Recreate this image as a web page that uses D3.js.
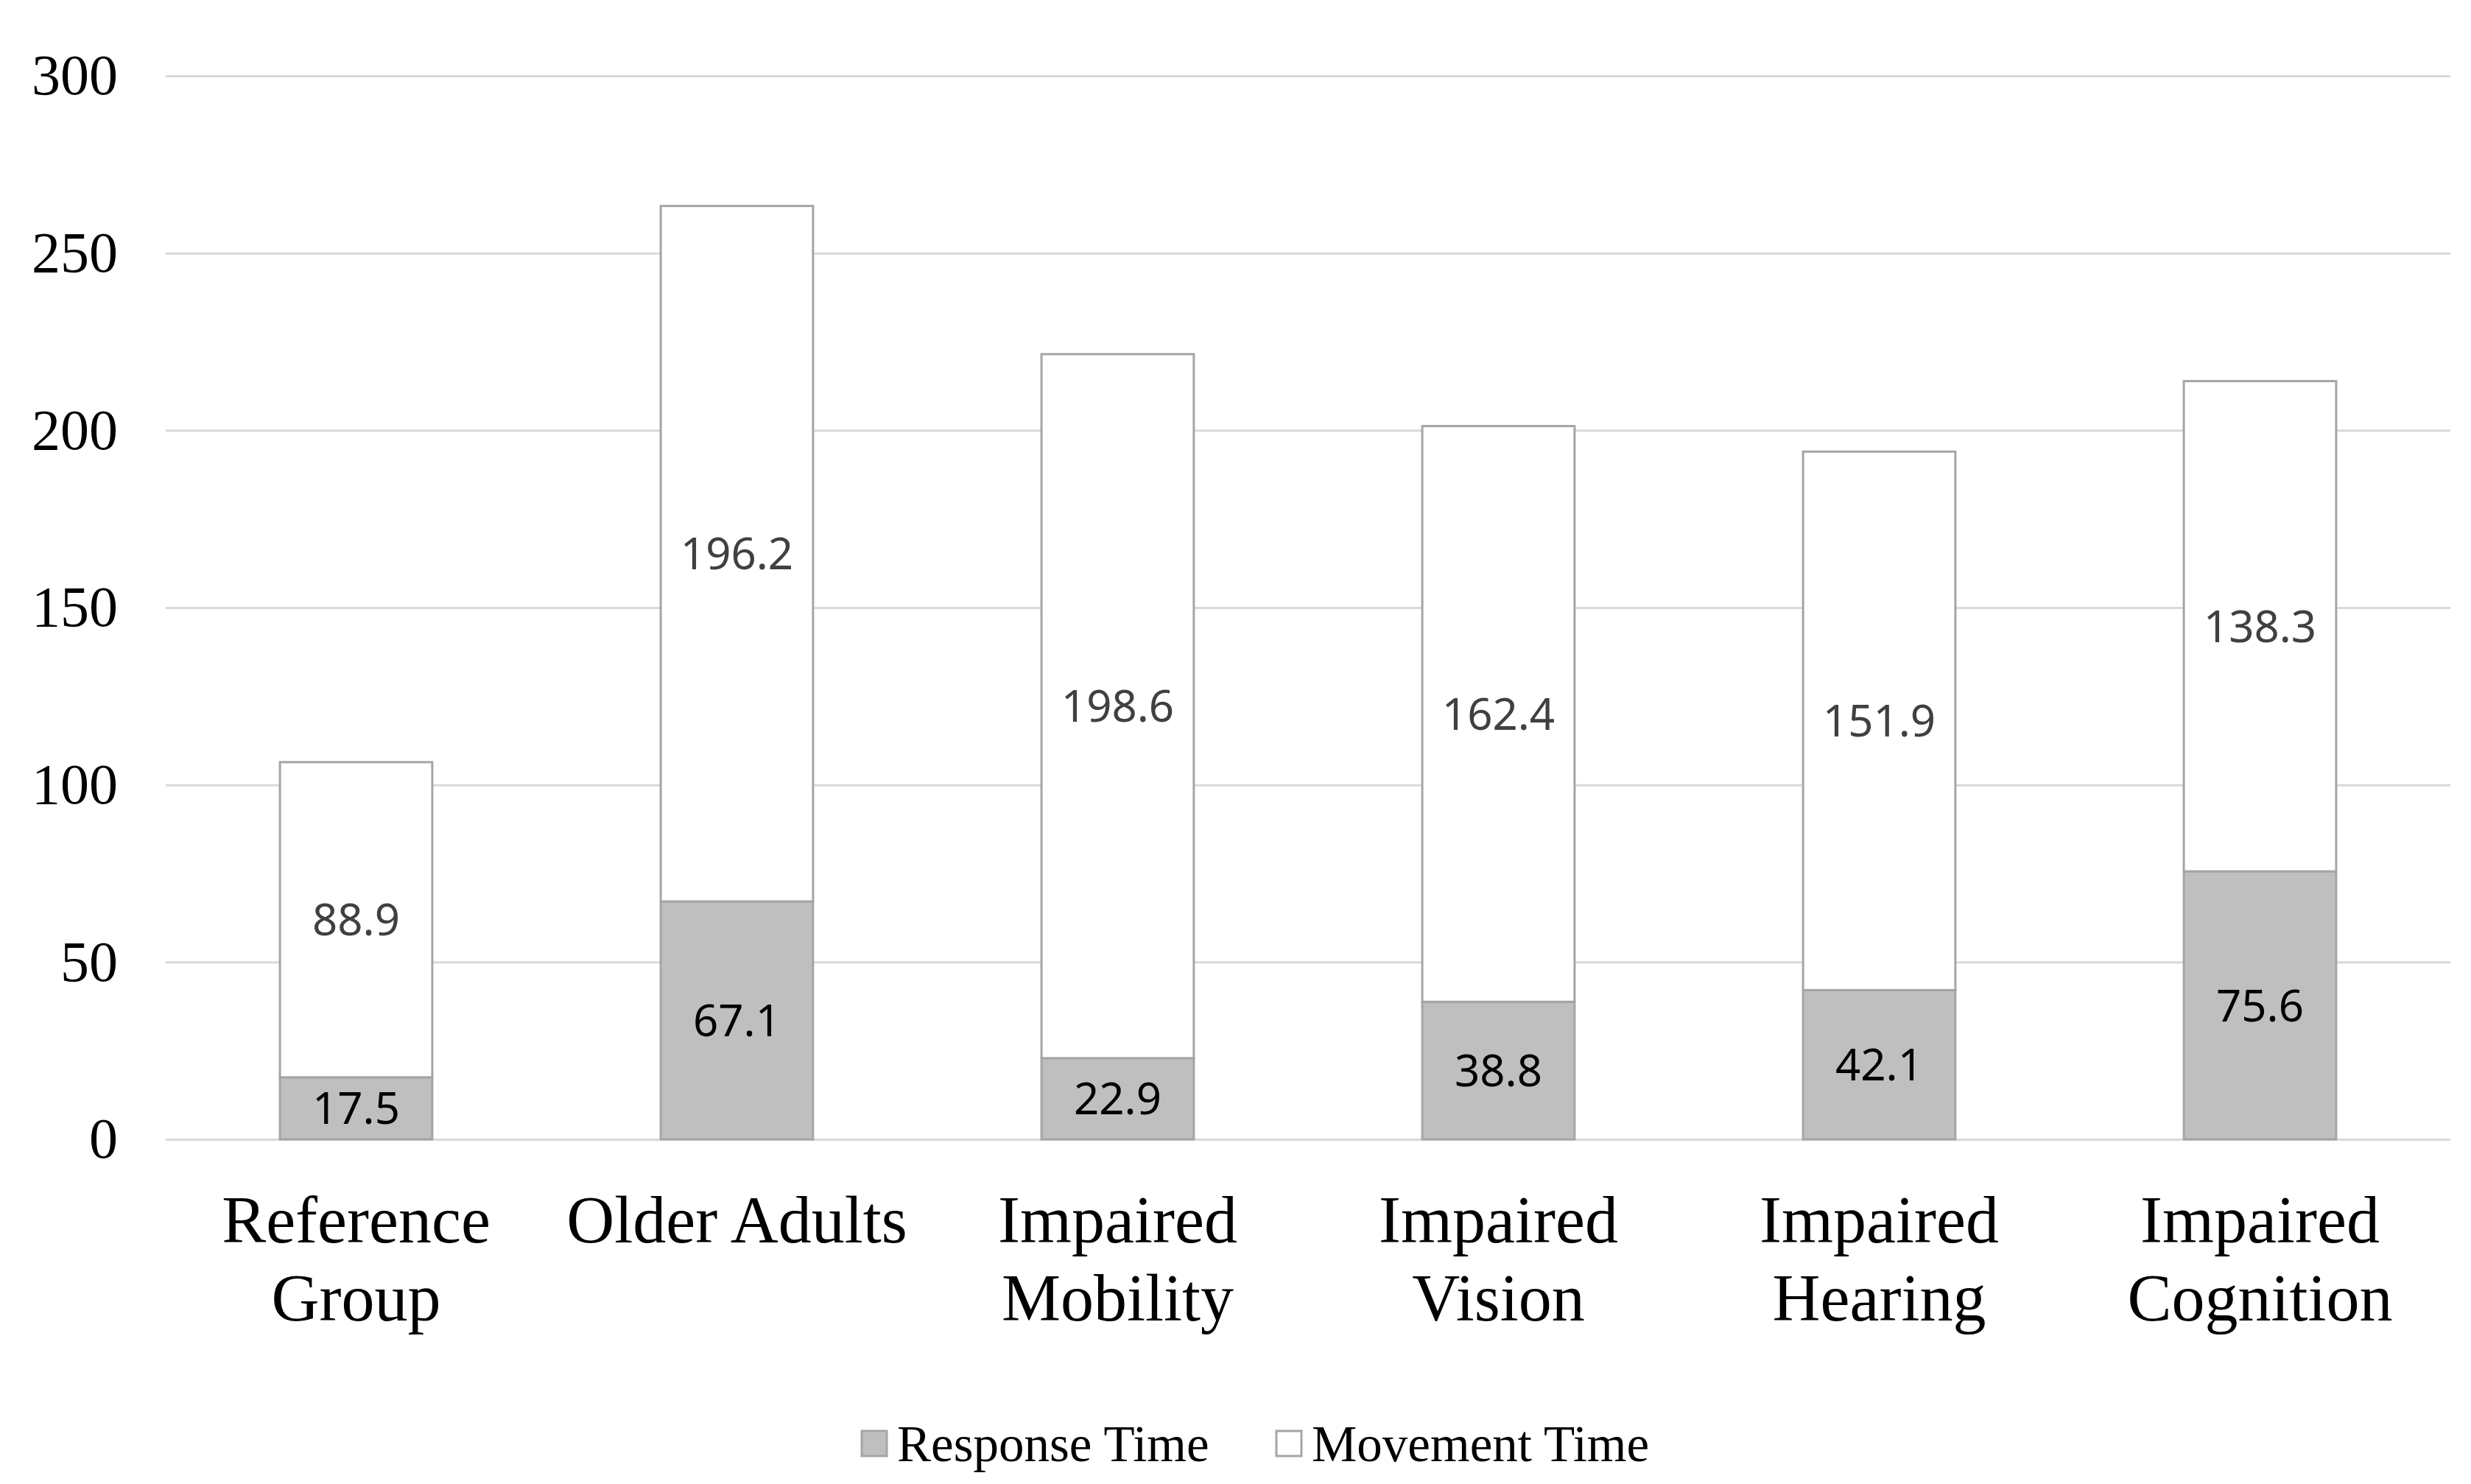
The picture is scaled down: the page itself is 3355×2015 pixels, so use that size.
<!DOCTYPE html>
<html>
<head>
<meta charset="utf-8">
<script src="https://cdn.jsdelivr.net/npm/d3@7"></script>
<style>
  html, body { margin: 0; padding: 0; background: #fff; }
  svg { display: block; }
</style>
</head>
<body>
<svg id="chart"></svg>
<script>
// datos
const categories = [
  ["Reference", "Group"],
  ["Older Adults"],
  ["Impaired", "Mobility"],
  ["Impaired", "Vision"],
  ["Impaired", "Hearing"],
  ["Impaired", "Cognition"]
];
const responseTime = [17.5, 67.1, 22.9, 38.8, 42.1, 75.6];
const movementTime = [88.9, 196.2, 198.6, 162.4, 151.9, 138.3];
const seriesNames = ["Response Time", "Movement Time"];
const yTicks = [0, 50, 100, 150, 200, 250, 300];

const width = 3355, height = 2015;
const margin = { top: 103, right: 28, bottom: 468, left: 225 };
const innerW = width - margin.left - margin.right;
const innerH = height - margin.top - margin.bottom;

const svg = d3.select('#chart').attr('width', width).attr('height', height);
const g = svg.append('g').attr('transform', `translate(${margin.left},${margin.top})`);

const x = d3.scaleBand()
  .domain(d3.range(categories.length))
  .range([0, innerW])
  .paddingInner(0.6)
  .paddingOuter(0.3);

const y = d3.scaleLinear().domain([0, 300]).range([innerH, 0]);

// lineas de cuadricula + etiquetas eje Y
const yAxis = g.append('g')
  .call(d3.axisLeft(y).tickValues(yTicks).tickSize(-innerW).tickPadding(65));
yAxis.select('.domain').remove();
yAxis.selectAll('.tick line').attr('stroke', '#d9d9d9').attr('stroke-width', 3);
yAxis.selectAll('.tick text')
  .attr('font-family', '"Liberation Serif", "Times New Roman", serif')
  .attr('font-size', 78)
  .attr('fill', '#000');

// apilado
const rows = responseTime.map((r, i) => ({ i, r, m: movementTime[i] }));
const stack = d3.stack().keys(['r', 'm'])(rows);
const fills = ['#bfbfbf', '#ffffff'];
const labelColors = ['#000000', '#404040'];

stack.forEach((layer, k) => {
  g.append('g').selectAll('rect')
    .data(layer)
    .join('rect')
    .attr('x', d => x(d.data.i))
    .attr('width', x.bandwidth())
    .attr('y', d => y(d[1]))
    .attr('height', d => y(d[0]) - y(d[1]))
    .attr('fill', fills[k])
    .attr('stroke', '#a5a5a5')
    .attr('stroke-width', 3);

  g.append('g').selectAll('text')
    .data(layer)
    .join('text')
    .attr('x', d => x(d.data.i) + x.bandwidth() / 2)
    .attr('y', d => y((d[0] + d[1]) / 2))
    .attr('dy', '0.36em')
    .attr('text-anchor', 'middle')
    .attr('font-family', '"Noto Sans", sans-serif')
    .attr('font-size', 60)
    .attr('fill', labelColors[k])
    .text(d => (d[1] - d[0]).toFixed(1));
});

// etiquetas de categorias
const catG = g.append('g');
categories.forEach((lines, i) => {
  const t = catG.append('text')
    .attr('x', x(i) + x.bandwidth() / 2)
    .attr('y', innerH + 140)
    .attr('text-anchor', 'middle')
    .attr('font-family', '"Liberation Serif", "Times New Roman", serif')
    .attr('font-size', 90)
    .attr('fill', '#000');
  lines.forEach((ln, j) => {
    t.append('tspan')
      .attr('x', x(i) + x.bandwidth() / 2)
      .attr('dy', j === 0 ? 0 : 106)
      .text(ln);
  });
});

// leyenda
const legendX = [1170, 1733];
const legend = svg.append('g');
seriesNames.forEach((name, k) => {
  legend.append('rect')
    .attr('x', legendX[k]).attr('y', 1943)
    .attr('width', 34).attr('height', 34)
    .attr('fill', fills[k])
    .attr('stroke', '#a5a5a5')
    .attr('stroke-width', 3);
  legend.append('text')
    .attr('x', legendX[k] + 48)
    .attr('y', 1984)
    .attr('font-family', '"Liberation Serif", "Times New Roman", serif')
    .attr('font-size', 69)
    .attr('fill', '#000')
    .text(name);
});
</script>
</body>
</html>
